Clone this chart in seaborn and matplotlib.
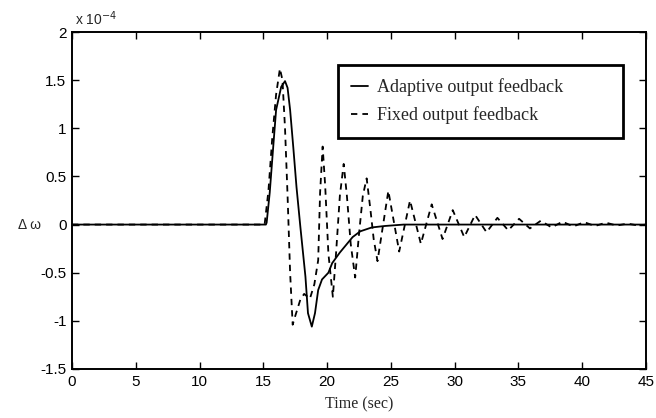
import matplotlib
matplotlib.use("Agg")
import matplotlib.pyplot as plt
import seaborn as sns
import pandas as pd

# ---- data (values in units of 1e-4) ----
adaptive_t = [0, 15.2, 15.26, 15.5, 15.8, 16.0, 16.4, 16.7, 16.9, 17.1, 17.35, 17.6, 17.9,
              18.3, 18.5, 18.8, 19.05, 19.3, 19.6, 20.1, 20.4, 21.0, 21.5, 22.0, 22.6,
              23.5, 24.5, 26.0, 45]
adaptive_v = [0, 0, 0.02, 0.33, 0.85, 1.19, 1.43, 1.49, 1.42, 1.19, 0.8, 0.39, -0.02,
              -0.54, -0.92, -1.06, -0.92, -0.68, -0.57, -0.5, -0.4, -0.29, -0.21, -0.13, -0.07,
              -0.03, -0.015, 0, 0]

fixed_t = [0, 15.1, 15.4, 15.7, 16.0, 16.3, 16.5, 16.7, 16.9, 17.1, 17.3, 17.5, 17.9,
           18.2, 18.65, 19.0, 19.3, 19.45, 19.65, 19.85, 20.1, 20.45, 20.7, 21.0, 21.3,
           21.55, 21.85, 22.2, 22.5, 22.8, 23.1, 23.4, 23.65, 23.95,
           24.8, 25.65, 26.5, 27.35, 28.2, 29.05, 29.85, 30.75, 31.6, 32.5, 33.35, 34.2,
           35.05, 35.9, 36.75, 37.6, 38.45, 39.3, 40.15, 41.0, 41.85, 42.7, 43.55, 44.4, 45]
fixed_v = [0, 0, 0.35, 0.9, 1.35, 1.62, 1.5, 1.0, 0.3, -0.5, -1.04, -0.95, -0.78,
           -0.72, -0.77, -0.62, -0.37, 0.33, 0.81, 0.4, -0.3, -0.75, -0.3, 0.3, 0.63,
           0.3, -0.2, -0.55, -0.1, 0.3, 0.48, 0.15, -0.15, -0.38,
           0.35, -0.28, 0.25, -0.2, 0.21, -0.15, 0.15, -0.13, 0.1, -0.08, 0.07, -0.06,
           0.06, -0.04, 0.04, -0.03, 0.03, -0.02, 0.025, -0.015, 0.02, -0.01, 0.01, -0.01, 0]

series_names = ["Adaptive output feedback", "Fixed output feedback"]
x_ticks = [0, 5, 10, 15, 20, 25, 30, 35, 40, 45]
y_ticks = [-1.5, -1, -0.5, 0, 0.5, 1, 1.5, 2]
y_tick_labels = ["-1.5", "-1", "-0.5", "0", "0.5", "1", "1.5", "2"]

df = pd.concat([
    pd.DataFrame({"t": adaptive_t, "v": adaptive_v, "series": series_names[0]}),
    pd.DataFrame({"t": fixed_t, "v": fixed_v, "series": series_names[1]}),
], ignore_index=True)

sns.set_style("white")
plt.rcParams["font.family"] = ["Liberation Sans", "DejaVu Sans"]

fig = plt.figure(figsize=(6.56, 4.18), dpi=100)
ax = fig.add_axes([72 / 656, 1 - 369 / 418, 574 / 656, 337 / 418])

sns.lineplot(data=df, x="t", y="v", hue="series", style="series",
             palette=["black", "black"], dashes=[(None, None), (3.5, 2.8)],
             linewidth=1.3, sort=False, estimator=None, ax=ax, legend=True)

ax.set_xlim(0, 45)
ax.set_ylim(-1.5, 2)
ax.set_xticks(x_ticks)
ax.set_xticklabels([str(x) for x in x_ticks], fontsize=11)
ax.set_yticks(y_ticks)
ax.set_yticklabels(y_tick_labels, fontsize=11)
ax.tick_params(direction="in", length=5, width=1, top=True, right=True,
               bottom=True, left=True, pad=4, colors="black")
for s in ax.spines.values():
    s.set_visible(True)
    s.set_color("black")
    s.set_linewidth(1.4)

ax.set_xlabel("Time (sec)", fontsize=11.5, family=["Liberation Serif", "DejaVu Serif"], labelpad=6)
ax.set_ylabel("")
fig.text(30 / 656, 1 - 225 / 418, "Δ ω", fontsize=10, ha="center", va="center")
ax.text(0.005, 1.012, "x 10$^{-4}$", transform=ax.transAxes, fontsize=10,
        ha="left", va="bottom")

handles, labels = ax.get_legend_handles_labels()
leg = ax.legend(handles, labels, loc="upper left",
                bbox_to_anchor=(0.463, 0.685, 0.497, 0.217), mode="expand",
                borderaxespad=0,
                frameon=True, fancybox=False, edgecolor="black", framealpha=1,
                handlelength=0.9, handletextpad=0.5, borderpad=0.75, labelspacing=0.55,
                prop={"family": ["Liberation Serif", "DejaVu Serif"], "size": 13})
leg.get_frame().set_linewidth(2)

fig.savefig("out.png", dpi=100)
